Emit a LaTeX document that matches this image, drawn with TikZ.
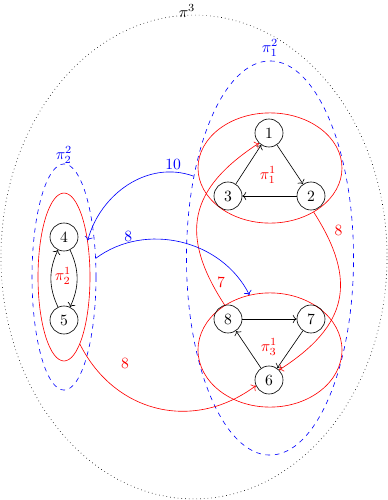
\documentclass[tikz,border=0pt]{standalone}
\usetikzlibrary{arrows.meta, positioning, shapes.geometric}

\begin{document}
\begin{tikzpicture}[
    x=0.0225cm, y=-0.0225cm,
    vertex/.style={circle, draw, minimum size=6.3mm, inner sep=0pt},
    part/.style={ellipse, draw=red},
    group/.style={ellipse, draw=blue, dashed},
    whole/.style={ellipse, draw, dotted},
    edge/.style={->},
    redlink/.style={->, red},
    bluelink/.style={->, blue},
]
\useasboundingbox (0,0) rectangle (388,500);

% partitions
\node[whole, minimum width=8.69cm, minimum height=10.89cm] (pi3) at (194,257) {};
\node[group, minimum width=3.76cm, minimum height=8.87cm] (pi12) at (270,258) {};
\node[group, minimum width=1.44cm, minimum height=5.09cm] (pi22) at (64,277) {};
\node[part, minimum width=3.24cm, minimum height=2.48cm] (pi11) at (270,168) {};
\node[part, minimum width=3.24cm, minimum height=2.57cm] (pi31) at (270,350) {};
\node[part, minimum width=1.17cm, minimum height=3.78cm] (pi21) at (64,277) {};

% partition names
\node (l3) at (187,11) {$\pi^3$};
\node[blue] (l12) at (270,48) {$\pi^2_1$};
\node[blue] (l22) at (64,155) {$\pi^2_2$};
\node[red] (l11) at (268,175) {$\pi^1_1$};
\node[red] (l31) at (269,347) {$\pi^1_3$};
\node[red] (l21) at (63,276) {$\pi^1_2$};

% vertices
\node[vertex] (n1) at (269,133) {1};
\node[vertex] (n2) at (311,196) {2};
\node[vertex] (n3) at (228,196) {3};
\node[vertex] (n4) at (64,237) {4};
\node[vertex] (n5) at (64,320) {5};
\node[vertex] (n6) at (269,380) {6};
\node[vertex] (n7) at (311,319) {7};
\node[vertex] (n8) at (228,319) {8};

\draw[edge] (n1) -- (n2);
\draw[edge] (n2) -- (n3);
\draw[edge] (n3) -- (n1);
\draw[edge] (n8) -- (n7);
\draw[edge] (n7) -- (n6);
\draw[edge] (n6) -- (n8);
\draw[edge] (n5) to[bend left=25] (n4);
\draw[edge] (n4) to[bend left=25] (n5);

% links between parts
\draw[redlink] (pi31) to[bend left=45, looseness=1.3] node[pos=0.11, right=0pt] {7} (n1);
\draw[redlink] (pi11) to[bend left=45, looseness=1.3] node[pos=0.09, right=3pt] {8} (n6);
\draw[redlink] (pi21) to[bend right=50, looseness=1.1] node[pos=0.32, above=13pt] {8} (n6);
\draw[bluelink] (pi22) to[bend left=50] node[pos=0.2, above, inner sep=0.5pt] {8} (pi31);
\draw[bluelink] (pi12.133) to[out=160, in=75] node[pos=0.15, above, inner sep=1pt] {10} (pi21.57);
\end{tikzpicture}
\end{document}
